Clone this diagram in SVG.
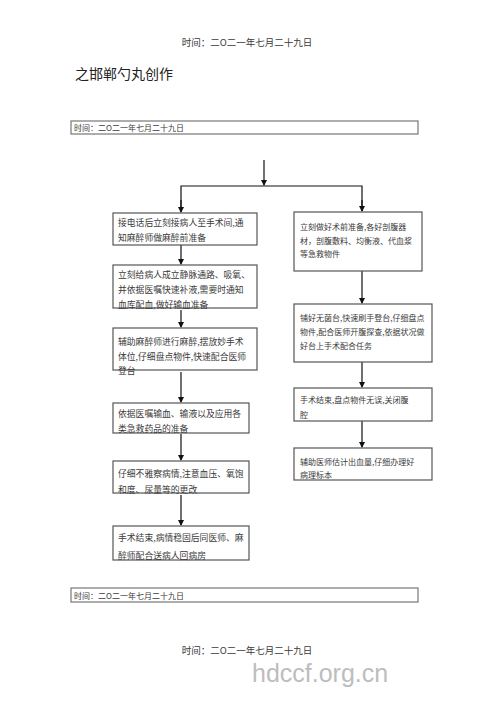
<svg xmlns="http://www.w3.org/2000/svg" width="500" height="708" viewBox="0 0 500 708">
<style>
text{font-family:"Noto Sans CJK SC","Noto Sans",sans-serif;fill:#3a3a3a}
.hd{font-size:9.5px}
.dt{font-size:8px}
.tl{font-size:14px;fill:#222}
.lb{font-size:8.8px}
.rb{font-size:8px}
.box{fill:#fff;stroke:#555;stroke-width:1.2}
.dbox{fill:#fff;stroke:#777;stroke-width:1.2}
.ln{fill:none;stroke:#111;stroke-width:1.2}
.wm{font-family:"Liberation Sans",Arial,sans-serif;font-size:25px;fill:#bdbdbd}
</style>
<defs>
<marker id="ah" markerWidth="6" markerHeight="6" refX="5" refY="3" orient="auto" markerUnits="userSpaceOnUse">
<path d="M0,0 L6,3 L0,6 Z" fill="#111"/>
</marker>
</defs>
<rect width="500" height="708" fill="#fff"/>
<text class="hd" x="247" y="46" text-anchor="middle">时间：二O二一年七月二十九日</text>
<text class="tl" x="75" y="79">之邯郸勺丸创作</text>
<g id="datebox-top">
<rect class="dbox" x="71" y="121" width="347" height="13"/>
<text class="dt" x="74" y="130.5">时间：二O二一年七月二十九日</text>
</g>
<g id="connectors">
<line class="ln" x1="264" y1="160" x2="264" y2="185" marker-end="url(#ah)"/>
<polyline class="ln" points="181,212 181,186 362,186 362,211"/>
<line class="ln" x1="181" y1="200" x2="181" y2="212" marker-end="url(#ah)"/>
<line class="ln" x1="362" y1="200" x2="362" y2="211" marker-end="url(#ah)"/>
<line class="ln" x1="181" y1="245" x2="181" y2="264" marker-end="url(#ah)"/>
<line class="ln" x1="181" y1="310" x2="181" y2="327" marker-end="url(#ah)"/>
<line class="ln" x1="181" y1="372" x2="181" y2="402" marker-end="url(#ah)"/>
<line class="ln" x1="181" y1="434" x2="181" y2="460" marker-end="url(#ah)"/>
<line class="ln" x1="181" y1="495" x2="181" y2="525" marker-end="url(#ah)"/>
<line class="ln" x1="362" y1="271" x2="362" y2="303" marker-end="url(#ah)"/>
<line class="ln" x1="362" y1="362" x2="362" y2="387" marker-end="url(#ah)"/>
<line class="ln" x1="362" y1="421" x2="362" y2="447" marker-end="url(#ah)"/>
</g>
<g id="L1">
<rect class="box" x="113" y="213" width="144" height="32"/>
<text class="lb" x="118" y="226">接电话后立刻接病人至手术间,通</text>
<text class="lb" x="118" y="241">知麻醉师做麻醉前准备</text>
</g>
<g id="L2">
<rect class="box" x="113" y="265" width="144" height="43"/>
<text class="lb" x="118" y="278">立刻给病人成立静脉通路、吸氧、</text>
<text class="lb" x="118" y="293">并依据医嘱快速补液,需要时通知</text>
<text class="lb" x="118" y="308">血库配血,做好输血准备</text>
</g>
<g id="L3">
<rect class="box" x="113" y="328" width="144" height="42"/>
<text class="lb" x="118" y="345">辅助麻醉师进行麻醉,摆放妙手术</text>
<text class="lb" x="118" y="360">体位,仔细盘点物件,快速配合医师</text>
<text class="lb" x="118" y="374">登台</text>
</g>
<g id="L4">
<rect class="box" x="113" y="403" width="136" height="30"/>
<text class="lb" x="118" y="417">依据医嘱输血、输液以及应用各</text>
<text class="lb" x="118" y="432">类急救药品的准备</text>
</g>
<g id="L5">
<rect class="box" x="113" y="461" width="136" height="32"/>
<text class="lb" x="118" y="477">仔细不雅察病情,注意血压、氧饱</text>
<text class="lb" x="118" y="493">和度、尿量等的更改</text>
</g>
<g id="L6">
<rect class="box" x="113" y="526" width="136" height="34"/>
<text class="lb" x="118" y="541">手术结束,病情稳固后同医师、麻</text>
<text class="lb" x="118" y="559">醉师配合送病人回病房</text>
</g>
<g id="R1">
<rect class="box" x="294" y="212" width="128" height="59"/>
<text class="rb" x="300" y="230">立刻做好术前准备,各好剖腹器</text>
<text class="rb" x="300" y="244">材，剖腹敷料、均衡液、代血浆</text>
<text class="rb" x="300" y="257">等急救物件</text>
</g>
<g id="R2">
<rect class="box" x="294" y="304" width="138" height="58"/>
<text class="rb" x="300" y="321">铺好无菌台,快速刷手登台,仔细盘点</text>
<text class="rb" x="300" y="335">物件,配合医师开腹探查,依据状况做</text>
<text class="rb" x="300" y="349">好台上手术配合任务</text>
</g>
<g id="R3">
<rect class="box" x="294" y="388" width="138" height="33"/>
<text class="rb" x="300" y="403">手术结束,盘点物件无误,关闭腹</text>
<text class="rb" x="300" y="418">腔</text>
</g>
<g id="R4">
<rect class="box" x="294" y="448" width="138" height="32"/>
<text class="rb" x="300" y="465">辅助医师估计出血量,仔细办理好</text>
<text class="rb" x="300" y="478">病理标本</text>
</g>
<g id="datebox-bottom">
<rect class="dbox" x="71" y="588" width="347" height="14"/>
<text class="dt" x="74" y="598.5">时间：二O二一年七月二十九日</text>
</g>
<text class="hd" x="247" y="654" text-anchor="middle">时间：二O二一年七月二十九日</text>
<text class="wm" x="252" y="682">hdccf.org.cn</text>
</svg>
